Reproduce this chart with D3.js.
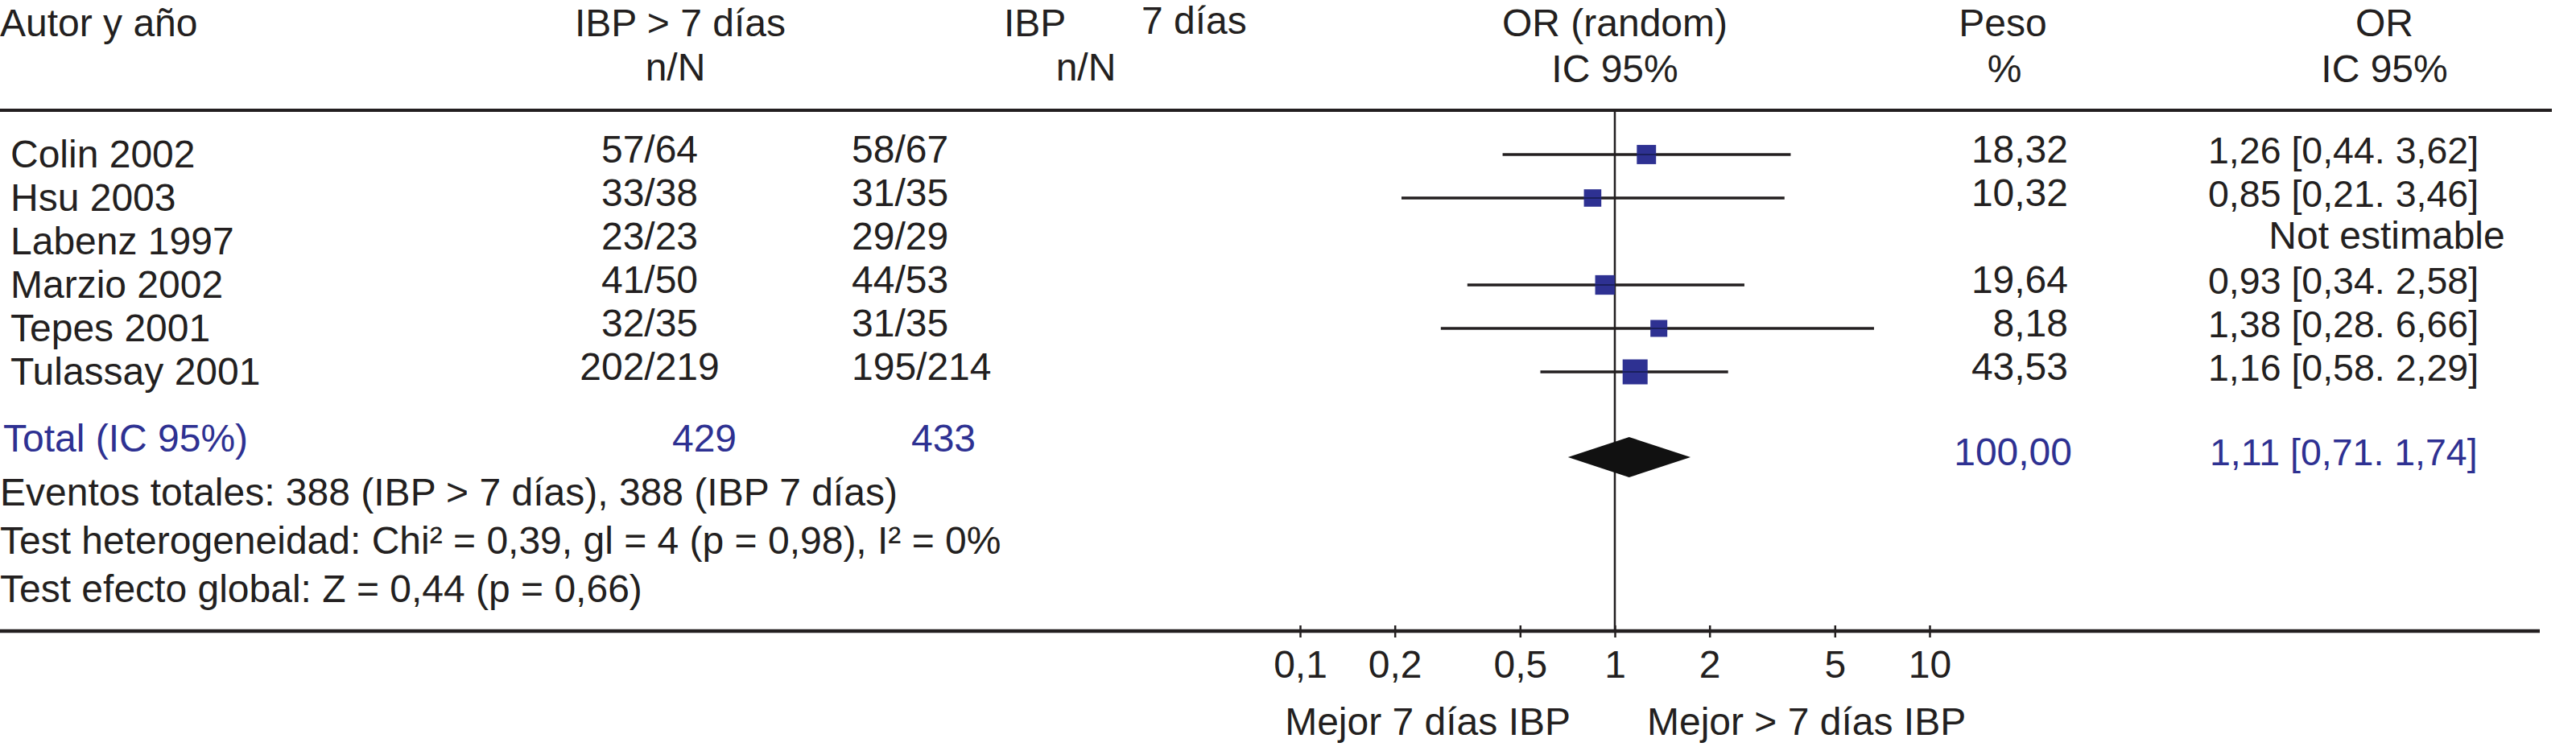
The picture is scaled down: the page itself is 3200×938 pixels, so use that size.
<!DOCTYPE html>
<html>
<head>
<meta charset="utf-8">
<script src="https://cdn.jsdelivr.net/npm/d3@7"></script>
<style>
  body { margin: 0; background: #fff; }
  svg { display: block; }
  text { font-family: "Liberation Sans", Arial, Helvetica, sans-serif; }
</style>
</head>
<body>
<svg id="chart"></svg>
<script>
// Study rows
const studies = ['Colin 2002', 'Hsu 2003', 'Labenz 1997', 'Marzio 2002', 'Tepes 2001', 'Tulassay 2001'];
const eventsLong = ['57/64', '33/38', '23/23', '41/50', '32/35', '202/219'];
const eventsShort = ['58/67', '31/35', '29/29', '44/53', '31/35', '195/214'];
const oddsRatios = [1.26, 0.85, null, 0.93, 1.38, 1.16];
const ciLower = [0.44, 0.21, null, 0.34, 0.28, 0.58];
const ciUpper = [3.62, 3.46, null, 2.58, 6.66, 2.29];
const weights = [18.32, 10.32, null, 19.64, 8.18, 43.53];

// Pooled result
const totalCounts = [429, 433];
const totalOR = [1.11, 0.71, 1.74];
const totalWeight = 100;

// Axis
const axisTicks = [0.1, 0.2, 0.5, 1, 2, 5, 10];
const axisTickLabels = ['0,1', '0,2', '0,5', '1', '2', '5', '10'];

const summaryLines = [
  'Eventos totales: 388 (IBP > 7 días), 388 (IBP 7 días)',
  'Test heterogeneidad: Chi² = 0,39, gl = 4 (p = 0,98), I² = 0%',
  'Test efecto global: Z = 0,44 (p = 0,66)'
];

const width = 3200, height = 938;
const FONT = 48, OR_FONT = 46.5;
const INK = '#231f20', BLUE = '#2e3192';

const svg = d3.select('#chart').attr('width', width).attr('height', height);
svg.append('rect').attr('width', width).attr('height', height).attr('fill', '#fff');

// comma decimal format
const fmt = v => d3.format('.2f')(v).replace('.', ',');
const orText = (o, l, h) => `${fmt(o)} [${fmt(l)}. ${fmt(h)}]`;

function label(x, y, str, anchor, color, size) {
  return svg.append('text')
    .attr('x', x).attr('y', y)
    .attr('text-anchor', anchor || 'start')
    .attr('font-size', size || FONT)
    .attr('fill', color || INK)
    .text(str);
}

// scales
const xScale = d3.scaleLog().domain([0.1, 10]).range([1615, 2397]);
const yScale = d3.scalePoint().domain(studies).range([192, 462]);
const boxScale = d3.scaleLinear().domain(d3.extent(weights.filter(w => w != null))).range([21, 31]);

// headers
label(0, 45, 'Autor y año');
label(845, 45, 'IBP > 7 días', 'middle');
label(839, 100, 'n/N', 'middle');
label(1247, 45, 'IBP');
label(1418, 42, '7 días');
label(1349, 100, 'n/N', 'middle');
label(2006, 45, 'OR (random)', 'middle');
label(2006, 102, 'IC 95%', 'middle');
label(2488, 45, 'Peso', 'middle');
label(2490, 102, '%', 'middle');
label(2962, 45, 'OR', 'middle');
label(2962, 102, 'IC 95%', 'middle');

// top rule
svg.append('line')
  .attr('x1', 0).attr('x2', 3170)
  .attr('y1', 137).attr('y2', 137)
  .attr('stroke', INK).attr('stroke-width', 4);

// line of no effect
svg.append('line')
  .attr('x1', xScale(1)).attr('x2', xScale(1))
  .attr('y1', 137).attr('y2', 784)
  .attr('stroke', INK).attr('stroke-width', 2.5);

// study rows
studies.forEach((s, i) => {
  const yc = yScale(s);
  label(13, yc + 16, s);
  label(807, yc + 10, eventsLong[i], 'middle');
  label(1058, yc + 10, eventsShort[i]);
  if (oddsRatios[i] == null) {
    label(2965, yc + 9, 'Not estimable', 'middle');
    return;
  }
  label(2569, yc + 10, fmt(weights[i]), 'end');
  label(2743, yc + 11, orText(oddsRatios[i], ciLower[i], ciUpper[i]), 'start', INK, OR_FONT);
});

const rows = studies.map((s, i) => ({ s, or: oddsRatios[i], lo: ciLower[i], hi: ciUpper[i], w: weights[i] }))
  .filter(d => d.or != null);

svg.selectAll('.ci')
  .data(rows)
  .join('line')
  .attr('class', 'ci')
  .attr('x1', d => xScale(d.lo)).attr('x2', d => xScale(d.hi))
  .attr('y1', d => yScale(d.s)).attr('y2', d => yScale(d.s))
  .attr('stroke', INK).attr('stroke-width', 3.5);

svg.selectAll('.box')
  .data(rows)
  .join('rect')
  .attr('class', 'box')
  .attr('x', d => xScale(d.or) - boxScale(d.w) / 2)
  .attr('y', d => yScale(d.s) - boxScale(d.w) / 2)
  .attr('width', d => boxScale(d.w))
  .attr('height', d => boxScale(d.w))
  .attr('fill', BLUE);

// CI line shows faintly through the boxes in the original
svg.selectAll('.ci-over')
  .data(rows)
  .join('line')
  .attr('class', 'ci-over')
  .attr('x1', d => xScale(d.or) - boxScale(d.w) / 2).attr('x2', d => xScale(d.or) + boxScale(d.w) / 2)
  .attr('y1', d => yScale(d.s)).attr('y2', d => yScale(d.s))
  .attr('stroke', '#1a1f5c').attr('stroke-width', 2);

// total row
label(4, 561, 'Total (IC 95%)', 'start', BLUE);
label(875, 561, totalCounts[0], 'middle', BLUE);
label(1172, 561, totalCounts[1], 'middle', BLUE);
label(2574, 578, fmt(totalWeight), 'end', BLUE);
label(2745, 578, orText(totalOR[0], totalOR[1], totalOR[2]), 'start', BLUE, OR_FONT);

const dy = 568, dh = 25;
svg.append('path')
  .attr('d', d3.line()([
    [xScale(totalOR[1]), dy],
    [xScale(totalOR[0]), dy - dh],
    [xScale(totalOR[2]), dy],
    [xScale(totalOR[0]), dy + dh]
  ]) + 'Z')
  .attr('fill', '#111');

// summary text
summaryLines.forEach((t, i) => label(0, 628 + i * 60, t));

// bottom axis line
svg.append('line')
  .attr('x1', 0).attr('x2', 3155)
  .attr('y1', 784).attr('y2', 784)
  .attr('stroke', INK).attr('stroke-width', 4.5);

const xAxis = d3.axisBottom(xScale)
  .tickValues(axisTicks)
  .tickFormat((d, i) => axisTickLabels[i])
  .tickSize(15)
  .tickSizeOuter(0);

const axisG = svg.append('g')
  .attr('transform', 'translate(0,777)')
  .call(xAxis);
axisG.select('.domain').remove();
axisG.selectAll('line').attr('stroke', INK).attr('stroke-width', 2.5);
axisG.selectAll('text')
  .attr('y', 65).attr('dy', null)
  .attr('font-size', FONT)
  .attr('font-family', '"Liberation Sans", Arial, sans-serif')
  .attr('fill', INK);

label(1951, 913, 'Mejor 7 días IBP', 'end');
label(2046, 913, 'Mejor > 7 días IBP');
</script>
</body>
</html>
